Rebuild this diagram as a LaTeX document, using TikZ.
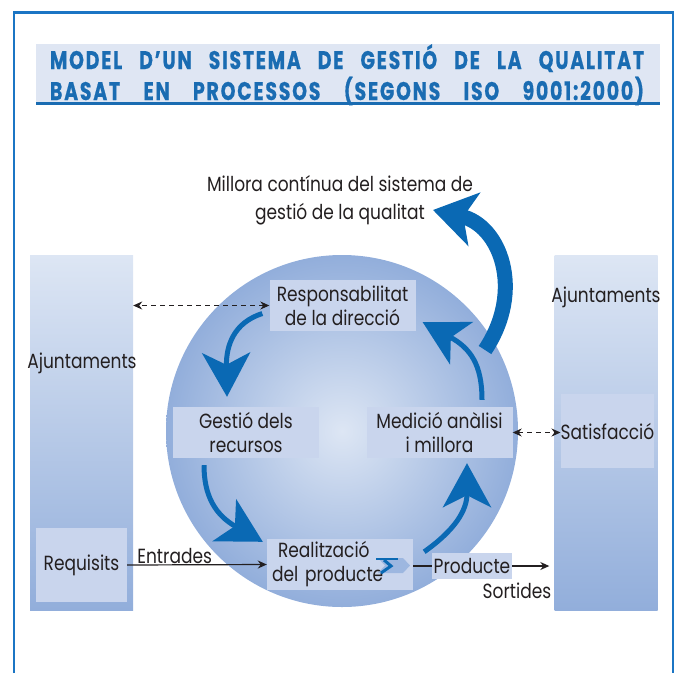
\documentclass[tikz,border=0pt]{standalone}
\usepackage{fontspec}
\setmainfont{Poppins}[FakeStretch=0.83]
\newfontfamily\titlefont{Poppins}[FakeStretch=0.74,LetterSpace=7,FakeBold=0.6]
\usetikzlibrary{arrows.meta,calc,positioning}

\definecolor{frameblue}{HTML}{1B75C4}
\definecolor{titleblue}{HTML}{1A6CB2}
\definecolor{bandfill}{HTML}{DFE6F3}
\definecolor{flowblue}{HTML}{0A69B4}
\definecolor{boxfill}{HTML}{C9D5ED}
\definecolor{shadelight}{HTML}{DDE6F4}
\definecolor{shadedark}{HTML}{92AEDB}
\definecolor{chevlight}{HTML}{9DB7E0}
\definecolor{inkblack}{HTML}{231F20}

\newcommand{\bodysize}{\fontsize{20.5}{24}\selectfont}

\begin{document}
\begin{tikzpicture}[x=1pt,y=-1pt,>={Stealth[length=9pt,width=8pt]},
  font=\bodysize, text=inkblack,
  titletext/.style={anchor=base,text=titleblue,inner sep=0pt,
    font=\titlefont\bfseries\fontsize{25.5}{25.5}\selectfont},
  procbox/.style={fill=boxfill,inner sep=0pt,minimum width=146pt,
    minimum height=51pt,align=center},
  sidebox/.style={fill=boxfill,inner sep=0pt,minimum width=91pt,minimum height=74pt},
  colbox/.style={inner sep=0pt,minimum width=103pt,minimum height=355pt,
    top color=shadelight,bottom color=shadedark},
  flow/.style={flowblue,line width=5pt,-{Stealth[length=44pt,width=48pt,inset=12pt]}},
  bigflow/.style={flowblue,line width=15pt,-{Stealth[length=42pt,width=54pt,inset=11pt]}},
  dashlink/.style={inkblack,line width=1.1pt,dash pattern=on 5pt off 4pt,<->},
  plainlink/.style={inkblack,line width=1.2pt}]
\useasboundingbox (0,0) rectangle (680,673);
% frame and title
\draw[frameblue,line width=2.6pt] (14,673) -- (14,12.5) -- (673,12.5) -- (673,673);
\fill[bandfill] (36,44) rectangle (660,103);
\draw[titleblue,line width=2.5pt] (36,103.5) -- (660,103.5);
\node[titletext] (title1) at (347,69) {\makebox[594pt][s]{MODEL D’UN SISTEMA DE GESTIÓ DE LA QUALITAT}};
\node[titletext] (title2) at (347,100) {\makebox[594pt][s]{BASAT EN PROCESSOS (SEGONS ISO 9001:2000)}};
% side columns
\node[colbox] (leftcol) at (81.5,432.5) {};
\node[colbox] (rightcol) at (606,432.5) {};
\node (ajleft) at (82,363) {Ajuntaments};
\node (ajright) at (606,297) {Ajuntaments};
\node[sidebox] (req) at (81.5,565) {Requisits};
\node[sidebox] (satis) at (607.5,431) {Satisfacció};
% the process loop
\shade[inner color=shadelight,outer color=shadedark] (342,431) circle (176);
\node[procbox] (resp) at (342.5,305.5) {Responsabilitat\\de la direcció};
\node[procbox] (gest) at (246,432.5) {Gestió dels\\recursos};
\node[procbox] (med) at (439.5,432.5) {Medició anàlisi\\i millora};
\node[procbox,text width=136pt,align=left] (real) at (340,564.5) {\hspace*{6pt}Realització\\del producte};
\node[procbox,minimum width=80pt,minimum height=26pt] (prod) at (472,566) {Producte};
\fill[chevlight] (378,558) -- (403,558) -- (410,565.5) -- (403,573) -- (378,573) -- (385,565.5) -- cycle;
\draw[flowblue,line width=2.5pt] (376,559) -- (398,559);
\draw[flowblue,line width=3pt] (384,560) -- (391,566) -- (381,573);
\node[align=center,font=\fontsize{20.5}{28}\selectfont] (millora) at (340,200) {Millora contínua del sistema de\\gestió de la qualitat};
% loop arrows
\draw[flow] ([shift={(-7,8)}]resp.west) .. controls +(-28,9) and +(-1,-52) .. ([shift={(-19,-10)}]gest.north);
\draw[flow] ([shift={(-42,7)}]gest.south) .. controls +(0,30) and +(-48,-27) .. ([shift={(-4,3)}]real.north west);
\draw[flow] ([shift={(11,13)}]real.north east) .. controls +(31,-22) and +(0,47) .. ([shift={(27.5,5)}]med.south);
\draw[flow] ([shift={(42.5,-7)}]med.north) .. controls +(0,-35) and +(48,26) .. ([shift={(7,-9)}]resp.south east);
\coordinate (outtail) at (485,350);
\coordinate (outtip) at (433,210);
\draw[bigflow] (outtail) .. controls (525,290) and (500,225) .. (outtip);
% links
\draw[dashlink] (resp.west) -- (resp.west -| leftcol.east);
\draw[dashlink] (med.east) -- (med.east -| satis.west);
\draw[plainlink,->] (req.east) -- node[above,pos=0.34,inner sep=1pt] (entr) {Entrades} (real.west);
\draw[plainlink] (real.east |- prod.west) -- (prod.west);
\draw[plainlink,->,shorten >=5pt] (prod.east) -- (prod.east -| rightcol.west);
\node (sort) at (517,591) {Sortides};
\end{tikzpicture}
\end{document}
